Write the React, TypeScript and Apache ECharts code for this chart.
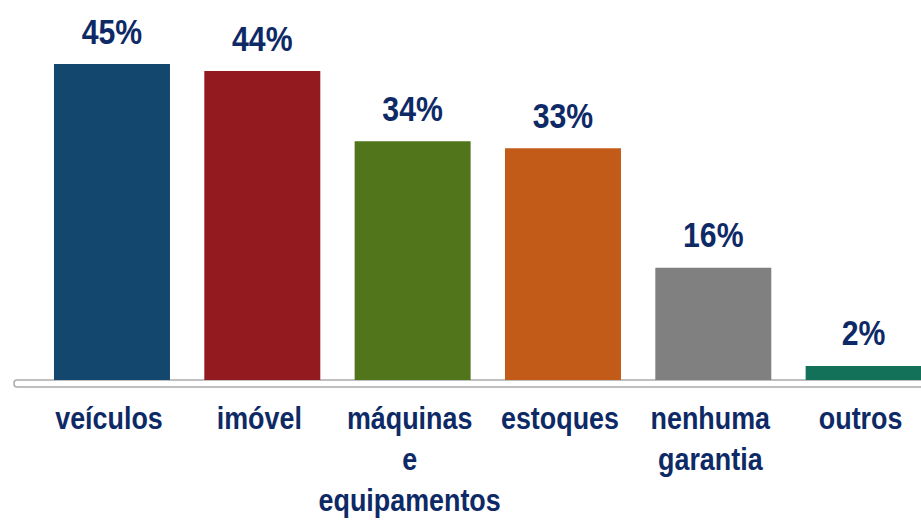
import React, { useEffect, useRef } from "react";
import * as echarts from "echarts";

const categories = ["veículos", "imóvel", "máquinas\ne\nequipamentos", "estoques", "nenhuma\ngarantia", "outros"];
const values = [45, 44, 34, 33, 16, 2];
const barColors = ["#13476E", "#931B1F", "#51751A", "#C25A18", "#808080", "#137059"];

const FONT = "'Liberation Sans', Arial, sans-serif";
const NAVY = "#0E2A66";
const SQUEEZE = 0.84;

export default function App() {
  const ref = useRef<HTMLDivElement>(null);
  useEffect(() => {
    if (!ref.current) return;
    const chart = echarts.init(ref.current, null, { renderer: "svg" });
    chart.setOption({
      animation: false,
      backgroundColor: "#ffffff",
      grid: { left: 36.8, width: 902, top: 29, bottom: 141, containLabel: false, outerBoundsMode: "none" },
      graphic: [
        {
          type: "rect",
          z: 0,
          shape: { x: 14, y: 380, width: 930, height: 7, r: 3 },
          style: { fill: "#ffffff", stroke: "#AAAAAA", lineWidth: 1.5 },
        },
      ],
      xAxis: {
        type: "category",
        data: categories,
        axisLine: { show: false },
        axisTick: { show: false },
        axisLabel: { show: false },
      },
      yAxis: {
        type: "value",
        min: 0,
        max: 50,
        show: false,
        splitLine: { show: false },
      },
      series: [
        {
          type: "bar",
          barWidth: 116,
          z: 3,
          data: values.map((v, i) => ({ value: v, itemStyle: { color: barColors[i] } })),
        },
        {
          type: "custom",
          z: 4,
          clip: false,
          data: values.map((v, i) => [i, v]),
          renderItem: (params: any, api: any) => {
            const p = api.coord([api.value(0), api.value(1)]);
            return {
              type: "text",
              x: p[0],
              y: p[1] - 33,
              scaleX: SQUEEZE,
              style: {
                text: values[params.dataIndex] + "%",
                fill: NAVY,
                fontFamily: FONT,
                fontWeight: "bold",
                fontSize: 36,
                align: "center",
                verticalAlign: "middle",
              },
            };
          },
        },
        {
          type: "custom",
          z: 4,
          clip: false,
          data: categories.map((c, i) => [i, 0]),
          renderItem: (params: any, api: any) => {
            const p = api.coord([api.value(0), 0]);
            return {
              type: "text",
              x: p[0] - 3,
              y: p[1] + 17.5,
              scaleX: SQUEEZE,
              style: {
                text: categories[params.dataIndex],
                fill: NAVY,
                fontFamily: FONT,
                fontWeight: "bold",
                fontSize: 32,
                lineHeight: 41,
                align: "center",
                verticalAlign: "top",
              },
            };
          },
        },
      ],
    });
    return () => chart.dispose();
  }, []);
  return <div ref={ref} style={{ width: 921, height: 521, position: "absolute", left: 0, top: 0 }} />;
}
